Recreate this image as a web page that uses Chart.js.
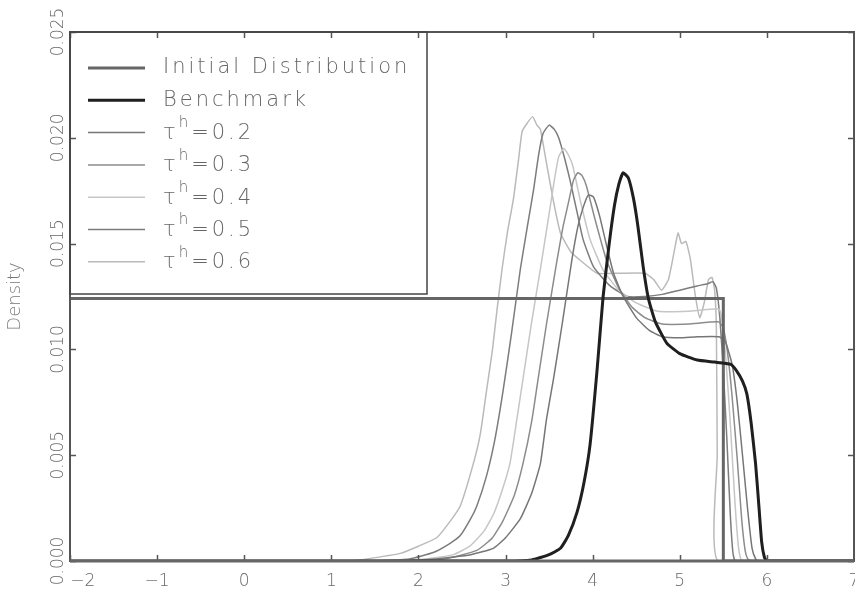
<!DOCTYPE html>
<html>
<head>
<meta charset="utf-8">
<script src="https://cdn.jsdelivr.net/npm/chart.js@4.4.1/dist/chart.umd.min.js"></script>
<style>
  html, body { margin: 0; padding: 0; background: #fff; overflow: hidden; }
  canvas { display: block; }
</style>
</head>
<body>
<canvas id="chart" width="855" height="591"></canvas>
<script>
// tick labels
const xTickValues = [-2, -1, 0, 1, 2, 3, 4, 5, 6, 7];
const xTickLabels = ['\u2003\u2002\u22122', '\u22121', '0', '1', '2', '3', '4', '5', '6', '7'];
const yTickLabels = ['0.000', '0.005', '0.010', '0.015', '0.020', '0.025'];

// initial (uniform) distribution
const initX = [-2, 5.5, 5.5, 7];
const initY = [0.0124, 0.0124, 0, 0];

// benchmark
const benchX = [-2, 3.0, 3.3, 3.5, 3.63, 3.72, 3.82, 3.9, 3.97, 4.05, 4.12, 4.19, 4.25, 4.3, 4.35, 4.41, 4.47, 4.52, 4.58, 4.64, 4.72, 4.85, 5.0, 5.2, 5.4, 5.58, 5.65, 5.72, 5.77, 5.82, 5.87, 5.91, 5.94, 5.97, 6.0, 7];
const benchY = [0, 0, 0.00005, 0.0003, 0.0006, 0.0012, 0.0023, 0.0037, 0.0055, 0.009, 0.0125, 0.015, 0.0168, 0.0178, 0.01835, 0.0181, 0.0171, 0.0158, 0.0139, 0.0124, 0.0113, 0.0103, 0.0098, 0.0095, 0.0094, 0.0093, 0.009, 0.0085, 0.0079, 0.0065, 0.0046, 0.0025, 0.0009, 0.0002, 0, 0];

// tau^h = 0.2
const t2X = [-2, 1.6, 2.2, 2.6, 2.86, 3.0, 3.17, 3.3, 3.4, 3.47, 3.55, 3.65, 3.76, 3.83, 3.89, 3.95, 4.01, 4.08, 4.16, 4.24, 4.35, 4.5, 4.65, 4.8, 5.0, 5.2, 5.45, 5.52, 5.6, 5.66, 5.72, 5.78, 5.83, 5.87, 5.9, 7];
const t2Y = [0, 0, 0.0001, 0.0003, 0.0006, 0.0011, 0.002, 0.0032, 0.0046, 0.0067, 0.0086, 0.0112, 0.0142, 0.0158, 0.0167, 0.0173, 0.0172, 0.0163, 0.0149, 0.0136, 0.0125, 0.0115, 0.0109, 0.0106, 0.01055, 0.0106, 0.0106, 0.0104, 0.0093, 0.0075, 0.005, 0.0024, 0.0006, 0.0001, 0, 0];

// tau^h = 0.3
const t3X = [-2, 1.5, 2.3, 2.67, 2.85, 2.97, 3.1, 3.2, 3.3, 3.37, 3.47, 3.59, 3.66, 3.72, 3.78, 3.83, 3.88, 3.93, 4.03, 4.16, 4.3, 4.45, 4.6, 4.8, 5.1, 5.45, 5.5, 5.55, 5.6, 5.66, 5.71, 5.75, 5.78, 5.82, 7];
const t3Y = [0, 0, 0.0001, 0.0005, 0.0011, 0.0019, 0.0031, 0.0046, 0.0066, 0.0085, 0.0112, 0.0142, 0.0158, 0.0169, 0.018, 0.01835, 0.0182, 0.0177, 0.0161, 0.0142, 0.0129, 0.012, 0.0115, 0.0112, 0.0112, 0.0113, 0.011, 0.0098, 0.0078, 0.0048, 0.002, 0.0005, 0.0001, 0, 0];

// tau^h = 0.4
const t4X = [-2, 1.4, 2.1, 2.4, 2.59, 2.75, 2.86, 2.95, 3.05, 3.13, 3.2, 3.3, 3.4, 3.5, 3.56, 3.61, 3.67, 3.72, 3.77, 3.86, 3.97, 4.12, 4.3, 4.5, 4.75, 5.1, 5.45, 5.48, 5.53, 5.58, 5.63, 5.67, 5.7, 5.73, 7];
const t4Y = [0, 0, 0.0001, 0.0003, 0.0007, 0.0014, 0.0022, 0.0032, 0.0046, 0.0067, 0.0086, 0.0113, 0.0138, 0.0164, 0.018, 0.0191, 0.0195, 0.0192, 0.0187, 0.017, 0.0152, 0.01375, 0.0128, 0.0122, 0.0118, 0.0118, 0.0119, 0.0115, 0.0095, 0.0065, 0.003, 0.0008, 0.0001, 0, 0];

// tau^h = 0.5
const t5X = [-2, 1.5, 1.9, 2.17, 2.35, 2.48, 2.6, 2.67, 2.78, 2.88, 2.97, 3.07, 3.17, 3.25, 3.32, 3.38, 3.43, 3.5, 3.56, 3.61, 3.68, 3.74, 3.82, 3.89, 4.01, 4.2, 4.4, 4.6, 4.8, 5.0, 5.2, 5.32, 5.38, 5.42, 5.46, 5.5, 5.54, 5.58, 5.61, 5.64, 7];
const t5Y = [0, 0, 0.0001, 0.0004, 0.0008, 0.0012, 0.002, 0.0026, 0.004, 0.0058, 0.008, 0.0108, 0.0138, 0.0158, 0.0175, 0.0192, 0.0202, 0.0206, 0.0204, 0.02, 0.019, 0.018, 0.0165, 0.0152, 0.0139, 0.013, 0.0125, 0.0125, 0.0126, 0.0128, 0.013, 0.0131, 0.0132, 0.0129, 0.0115, 0.009, 0.0058, 0.0022, 0.0004, 0, 0];

// tau^h = 0.6
const t6X = [-2, 1.2, 1.41, 1.79, 2.0, 2.21, 2.35, 2.48, 2.63, 2.71, 2.78, 2.85, 2.9, 2.96, 3.02, 3.09, 3.15, 3.19, 3.25, 3.31, 3.36, 3.4, 3.47, 3.55, 3.63, 3.75, 3.86, 4.05, 4.3, 4.6, 4.7, 4.79, 4.87, 4.93, 4.98, 5.02, 5.07, 5.12, 5.18, 5.23, 5.28, 5.33, 5.37, 5.4, 5.42, 5.43, 5.44, 7];
const t6Y = [0, 0, 0.0001, 0.00036, 0.0007, 0.0011, 0.0018, 0.0026, 0.0046, 0.006, 0.008, 0.01, 0.0118, 0.0138, 0.0155, 0.0171, 0.019, 0.0203, 0.0207, 0.021, 0.0206, 0.0204, 0.0188, 0.017, 0.0155, 0.0146, 0.0142, 0.0136, 0.0136, 0.0136, 0.0133, 0.0128, 0.0133, 0.0145, 0.0155, 0.015, 0.0151, 0.0143, 0.0125, 0.0115, 0.0122, 0.0133, 0.0134, 0.0128, 0.011, 0.005, 0, 0];

const pts = (xs, ys) => xs.map((x, i) => ({ x: x, y: ys[i] }));

const FONT = 'DejaVu Sans';

// draws the box frame, inward ticks and the in-plot legend
const frameAndLegend = {
  id: 'frameAndLegend',
  afterDatasetsDraw(chart) {
    const { ctx, chartArea: a, scales: { x, y } } = chart;
    ctx.save();
    ctx.strokeStyle = '#555';
    ctx.lineWidth = 1.5;
    x.ticks.forEach((t) => {
      const px = Math.round(x.getPixelForValue(t.value)) + 0.5;
      ctx.beginPath();
      ctx.moveTo(px, a.bottom); ctx.lineTo(px, a.bottom - 6);
      ctx.moveTo(px, a.top); ctx.lineTo(px, a.top + 6);
      ctx.stroke();
    });
    y.ticks.forEach((t) => {
      const py = Math.round(y.getPixelForValue(t.value)) + 0.5;
      ctx.beginPath();
      ctx.moveTo(a.left, py); ctx.lineTo(a.left + 6, py);
      ctx.moveTo(a.right, py); ctx.lineTo(a.right - 6, py);
      ctx.stroke();
    });
    ctx.lineWidth = 2;
    ctx.strokeRect(a.left, a.top, a.right - a.left, a.bottom - a.top);
    ctx.lineWidth = 3;
    ctx.strokeStyle = '#666';
    ctx.beginPath();
    ctx.moveTo(a.left, a.bottom); ctx.lineTo(a.right, a.bottom);
    ctx.stroke();

    // legend box
    ctx.strokeStyle = '#444';
    ctx.lineWidth = 1.5;
    ctx.strokeRect(a.left, a.top, 357, 262);
    ctx.fillStyle = '#666';
    ctx.textBaseline = 'middle';
    ctx.textAlign = 'left';
    ctx.letterSpacing = '3px';
    chart.data.datasets.forEach((ds, i) => {
      const ly = a.top + 36 + i * 32.3;
      ctx.strokeStyle = ds.borderColor;
      ctx.lineWidth = ds.borderWidth;
      ctx.beginPath();
      ctx.moveTo(88, ly); ctx.lineTo(145, ly);
      ctx.stroke();
      let tx = 163;
      if (ds.tau) {
        ctx.font = `200 21px "${FONT}"`;
        ctx.fillText('\u03c4', tx, ly + 1);
        tx += ctx.measureText('\u03c4').width;
        ctx.font = `200 15px "${FONT}"`;
        ctx.fillText('h', tx, ly - 9);
        tx += ctx.measureText('h').width;
        ctx.font = `200 21px "${FONT}"`;
        ctx.fillText('=' + ds.tau, tx, ly + 1);
      } else {
        ctx.font = `200 21px "${FONT}"`;
        ctx.fillText(ds.label, tx, ly);
      }
    });
    ctx.restore();
  }
};

const line = (label, xs, ys, color, width, order, tau) => ({
  label: label,
  tau: tau,
  data: pts(xs, ys),
  borderColor: color,
  borderWidth: width,
  pointRadius: 0,
  tension: label === 'Initial Distribution' ? 0 : 0.15,
  order: order,
  fill: false
});

new Chart(document.getElementById('chart'), {
  type: 'line',
  data: {
    datasets: [
      line('Initial Distribution', initX, initY, '#666666', 3, 1),
      line('Benchmark', benchX, benchY, '#1f1f1f', 3, 0),
      line('\u03c4h=0.2', t2X, t2Y, '#767676', 1.5, 2, '0.2'),
      line('\u03c4h=0.3', t3X, t3Y, '#8c8c8c', 1.5, 3, '0.3'),
      line('\u03c4h=0.4', t4X, t4Y, '#c6c6c6', 1.5, 4, '0.4'),
      line('\u03c4h=0.5', t5X, t5Y, '#7c7c7c', 1.5, 5, '0.5'),
      line('\u03c4h=0.6', t6X, t6Y, '#bababa', 1.5, 6, '0.6')
    ]
  },
  options: {
    responsive: false,
    animation: false,
    layout: { autoPadding: false, padding: { top: 32, right: 1, left: 0, bottom: 0 } },
    plugins: { legend: { display: false }, tooltip: { enabled: false } },
    scales: {
      x: {
        type: 'linear',
        min: -2,
        max: 7,
        afterFit: (s) => { s.height = 30; },
        grid: { display: false, drawTicks: true, tickLength: 15 },
        border: { display: false },
        ticks: {
          stepSize: 1,
          padding: -5,
          color: '#666',
          font: { family: FONT, size: 17, weight: 200 },
          maxRotation: 0,
          autoSkip: false,
          callback: (v) => {
            const i = xTickValues.indexOf(v);
            return i >= 0 ? xTickLabels[i] : '';
          }
        }
      },
      y: {
        min: 0,
        max: 0.025,
        afterFit: (s) => { s.width = 70; },
        grid: { display: false, drawTicks: false },
        border: { display: false },
        title: {
          display: true,
          text: 'Density',
          color: '#777',
          font: { family: FONT, size: 18, weight: 200 },
          padding: { top: 5, bottom: 0 }
        },
        ticks: {
          stepSize: 0.005,
          minRotation: 90,
          maxRotation: 90,
          crossAlign: 'center',
          padding: -13,
          color: '#666',
          font: { family: FONT, size: 17, weight: 200 },
          callback: (v) => yTickLabels[Math.round(v / 0.005)]
        }
      }
    }
  },
  plugins: [frameAndLegend]
});
</script>
</body>
</html>
